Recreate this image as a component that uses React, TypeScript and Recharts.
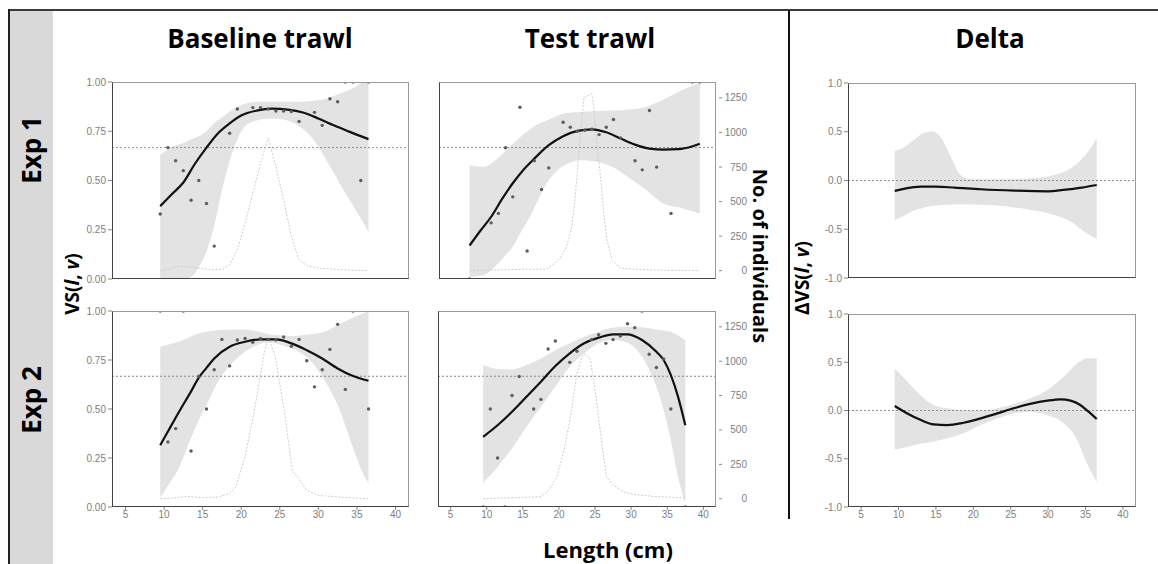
import React from "react"
import { ComposedChart, Area, Line, Scatter, XAxis, YAxis, ReferenceLine } from "recharts"

// rows are [length, value] / [length, lo, hi] / [length, count]
const exp1BasePts = [
  [9.5, 0.33], [10.5, 0.667], [11.5, 0.6], [12.5, 0.55], [13.5, 0.4], [14.5, 0.5], [15.5, 0.383], [16.5, 0.167],
  [18.5, 0.74], [19.5, 0.863], [21.5, 0.87], [22.5, 0.87], [23.5, 0.863], [24.5, 0.853], [25.5, 0.853], [26.5, 0.85],
  [27.5, 0.8], [29.5, 0.846], [30.5, 0.78], [31.5, 0.915], [32.5, 0.9], [33.5, 1], [34.5, 1], [35.5, 0.5], [36.5, 1],
]
const exp1BaseFit = [
  [9.5, 0.37], [11, 0.43], [12.5, 0.49], [14, 0.585], [15.5, 0.667], [17, 0.74], [18.5, 0.79], [20, 0.83],
  [22, 0.855], [24, 0.865], [26, 0.86], [28, 0.845], [30, 0.815], [32, 0.78], [34, 0.748], [36.5, 0.71],
]
const exp1BaseBand = [
  [9.5, 0, 0.63], [11, 0, 0.67], [12.5, 0, 0.69], [13.5, 0.01, 0.71], [14.5, 0.06, 0.725], [15.5, 0.14, 0.75],
  [16.5, 0.27, 0.79], [17.5, 0.45, 0.82], [18.5, 0.6, 0.85], [19.5, 0.71, 0.875], [20.5, 0.775, 0.89], [22, 0.805, 0.9],
  [24, 0.815, 0.9], [26, 0.805, 0.9], [27.5, 0.775, 0.9], [29.5, 0.7, 0.905], [31, 0.605, 0.915], [33, 0.47, 0.945],
  [35, 0.34, 0.98], [36.5, 0.24, 1.03],
]
const exp1BaseCount = [
  [9.5, 0], [10.5, 7], [11.5, 26], [12.5, 31], [13.5, 25], [14.5, 19], [15.5, 12], [16.5, 7], [17.5, 10], [18.5, 43],
  [19.5, 151], [20.5, 343], [21.5, 559], [22.5, 775], [23.5, 962], [24.5, 751], [25.5, 511], [26.5, 247], [27.5, 79],
  [28.5, 36], [30, 19], [33, 7], [36.5, 0],
]

const exp1TestPts = [
  [7.5, 0], [10.5, 0.285], [11.5, 0.333], [12.5, 0.666], [13.5, 0.417], [14.5, 0.872], [15.5, 0.142], [16.5, 0.6],
  [17.5, 0.454], [18.5, 0.564], [20.5, 0.796], [21.5, 0.77], [22.5, 0.75], [23.5, 0.755], [24.5, 0.76], [25.5, 0.733],
  [26.5, 0.77], [27.5, 0.81], [28.5, 0.716], [30.5, 0.6], [31.5, 0.554], [32.5, 0.855], [33.5, 0.568], [35.5, 0.333],
  [38.5, 1], [39.5, 1],
]
const exp1TestFit = [
  [7.5, 0.17], [9, 0.245], [10.5, 0.316], [12, 0.405], [13.5, 0.486], [15, 0.555], [16.5, 0.611], [18.5, 0.679],
  [20.5, 0.725], [22.5, 0.752], [24.5, 0.76], [26.5, 0.745], [28.5, 0.713], [30.5, 0.682], [32.5, 0.662],
  [34.5, 0.657], [36.5, 0.659], [38.5, 0.674], [39.5, 0.687],
]
const exp1TestBand = [
  [7.5, 0.01, 0.578], [9.5, 0.02, 0.57], [10.5, 0.045, 0.585], [11.5, 0.08, 0.615], [12.5, 0.12, 0.65],
  [13.5, 0.164, 0.685], [14.5, 0.23, 0.72], [15.9, 0.316, 0.76], [17, 0.4, 0.785], [18.2, 0.485, 0.805],
  [19.5, 0.545, 0.825], [20.5, 0.573, 0.84], [22.8, 0.603, 0.848], [25, 0.597, 0.852], [27.5, 0.566, 0.855],
  [29.8, 0.51, 0.86], [32.1, 0.45, 0.875], [34.4, 0.383, 0.91], [37.2, 0.358, 0.962], [39.5, 0.333, 0.995],
]
const exp1TestCount = [
  [7.5, 0], [9, 2], [11, 5], [13, 8], [15, 10], [17, 10], [18.2, 12], [19.1, 43], [20.1, 91], [21, 175], [21.7, 319],
  [22.15, 511], [22.6, 799], [23.1, 1087], [23.4, 1255], [24.5, 1279], [24.8, 1159], [25.2, 919], [25.7, 679],
  [26.1, 439], [26.6, 223], [27.3, 79], [28.4, 19], [31, 8], [35, 3], [39.5, 0],
]

const exp2BasePts = [
  [9.5, 1], [10.5, 0.332], [11.5, 0.4], [12.5, 1], [13.5, 0.286], [14.5, 0.667], [15.5, 0.5], [16.5, 0.7],
  [17.5, 0.855], [18.5, 0.72], [19.5, 0.852], [20.5, 0.86], [21.5, 0.84], [22.5, 0.86], [23.5, 0.855], [24.5, 0.852],
  [25.5, 0.867], [26.5, 0.82], [27.5, 0.855], [28.5, 0.746], [29.5, 0.613], [30.5, 0.7], [31.5, 0.804],
  [32.5, 0.932], [33.5, 0.6], [34.5, 1], [36.5, 0.5],
]
const exp2BaseFit = [
  [9.5, 0.315], [10.5, 0.385], [12, 0.49], [13.5, 0.59], [14.5, 0.66], [15.5, 0.71], [16.5, 0.758], [18.5, 0.818],
  [20.5, 0.843], [22.5, 0.855], [24.5, 0.855], [26.5, 0.835], [28.5, 0.8], [30.5, 0.758], [32.5, 0.707],
  [34.5, 0.668], [36.5, 0.644],
]
const exp2BaseBand = [
  [9.5, 0.05, 0.818], [10.7, 0.12, 0.83], [12, 0.204, 0.845], [13.2, 0.324, 0.865], [14.5, 0.443, 0.885],
  [15.8, 0.545, 0.895], [17.1, 0.647, 0.903], [18.8, 0.733, 0.906], [20.5, 0.792, 0.905], [22.3, 0.83, 0.894],
  [23.5, 0.84, 0.882], [24.8, 0.83, 0.876], [26.5, 0.81, 0.872], [28.7, 0.758, 0.88], [30.8, 0.647, 0.894],
  [32.6, 0.511, 0.93], [34.3, 0.324, 0.962], [35.6, 0.187, 0.985], [36.5, 0.12, 0.997],
]
const exp2BaseCount = [
  [9.5, 0], [11, 5], [13, 17], [15, 8], [17, 12], [18.4, 37], [19.3, 85], [20.5, 305], [21.8, 670], [22.9, 1036],
  [23.5, 1180], [24.4, 1036], [25.7, 597], [26.6, 207], [27.4, 150], [28.5, 61], [30, 24], [31.7, 17], [33.9, 7],
  [36.5, 0],
]

const exp2TestPts = [
  [9.5, 0], [10.5, 0.5], [11.5, 0.25], [12.5, 0], [13.5, 0.569], [14.5, 0.666], [16.5, 0.5], [17.5, 0.549],
  [18.5, 0.806], [19.5, 0.847], [21.5, 0.738], [22.5, 0.795], [24.5, 0.854], [25.5, 0.879], [26.5, 0.835],
  [27.5, 0.854], [28.5, 0.872], [29.5, 0.935], [30.5, 0.915], [31.5, 1], [32.5, 0.779], [33.5, 0.712],
  [34.5, 0.755], [35.5, 0.5], [37.5, 0],
]
const exp2TestFit = [
  [9.5, 0.358], [11.5, 0.417], [13.5, 0.486], [15.5, 0.562], [17.5, 0.639], [19.5, 0.719], [21.5, 0.784],
  [23.5, 0.835], [25.5, 0.864], [27.5, 0.881], [29.5, 0.881], [31.5, 0.852], [33.5, 0.792], [34.5, 0.75],
  [35.5, 0.673], [36.5, 0.562], [37.5, 0.417],
]
const exp2TestBand = [
  [9.5, 0.123, 0.724], [11.5, 0.204, 0.704], [13.5, 0.298, 0.702], [15.5, 0.409, 0.724], [17.5, 0.511, 0.758],
  [19.5, 0.613, 0.8], [21.5, 0.715, 0.835], [23.5, 0.784, 0.869], [25.5, 0.835, 0.894], [27.5, 0.852, 0.916],
  [29.5, 0.838, 0.92], [31.5, 0.767, 0.917], [33.5, 0.613, 0.906], [34.5, 0.494, 0.9], [35.5, 0.341, 0.894],
  [36.5, 0.153, 0.875], [37.5, 0.017, 0.852],
]
const exp2TestCount = [
  [9.5, 0], [12, 5], [15, 10], [17.5, 15], [18.6, 61], [19.7, 158], [20.7, 353], [21.6, 597], [22.5, 914],
  [23.2, 1036], [23.5, 1053], [24.3, 1024], [25, 792], [26, 378], [26.6, 158], [27.6, 97], [29, 49], [30.3, 32],
  [33.1, 17], [37.5, 7],
]

const delta1Fit = [
  [9.5, -0.107], [11, -0.08], [13, -0.063], [15, -0.063], [17.5, -0.073], [21, -0.09], [25.5, -0.104], [30, -0.111],
  [32, -0.097], [34.5, -0.073], [36.5, -0.046],
]
const delta1Band = [
  [9.5, -0.404, 0.305], [10.5, -0.37, 0.33], [12, -0.31, 0.414], [13.4, -0.28, 0.49], [14.5, -0.26, 0.506],
  [15.6, -0.25, 0.448], [17, -0.245, 0.244], [18.3, -0.244, 0.056], [19.6, -0.245, 0.015], [23.2, -0.257, 0.012],
  [27.6, -0.301, 0.022], [30.8, -0.353, 0.056], [33, -0.42, 0.124], [34.8, -0.523, 0.244], [36.5, -0.6, 0.43],
]
const delta2Fit = [
  [9.5, 0.047], [11, -0.023], [13, -0.099], [14.7, -0.144], [16.5, -0.151], [18.7, -0.127], [21, -0.081],
  [23.2, -0.03], [25.4, 0.023], [27.6, 0.068], [29.9, 0.102], [31.7, 0.116], [33, 0.102], [34.3, 0.057],
  [35.4, -0.012], [36.5, -0.088],
]
const delta2Band = [
  [9.5, -0.404, 0.432], [11, -0.38, 0.317], [12.9, -0.345, 0.161], [14.7, -0.32, 0.057], [16.5, -0.29, 0.023],
  [18.7, -0.237, 0.005], [21, -0.151, 0], [23.2, -0.081, 0.023], [25.4, -0.03, 0.068], [27.6, -0.012, 0.127],
  [29.9, -0.047, 0.213], [32.1, -0.133, 0.352], [33.9, -0.307, 0.49], [35.2, -0.55, 0.542], [36.5, -0.74, 0.542],
]

const LEN_TICKS = [5, 10, 15, 20, 25, 30, 35, 40]
const VS_TICKS = [0, 0.25, 0.5, 0.75, 1]
const DELTA_TICKS = [-1, -0.5, 0, 0.5, 1]
const N_TICKS = [0, 250, 500, 750, 1000, 1250]

const titleFont = "'Open Sans', sans-serif"
const tickFont = { fontFamily: "'Liberation Sans', Arial, sans-serif", fontSize: 10, fill: "#808080" }

const dotShape = (p: any) => <circle cx={p.cx} cy={p.cy} r={1.7} fill="#5c5c5c" />

const RightTick = (p: any) => (
  <g>
    <line x1={p.x + 3} x2={p.x + 6} y1={p.y} y2={p.y} stroke="#888" />
    <text x={p.x + 31} y={p.y} dy={3.5} textAnchor="end" {...tickFont}>{p.payload.value}</text>
  </g>
)

function Panel({ x, y, w, h, delta, band, fit, points, counts, showLeft, showBottom, showRight }: any) {
  const YW = showLeft ? 40 : 0
  const RW = showRight ? 40 : 0
  const XH = showBottom ? 18 : 0
  const M = 8
  const bandData = band.map(([lx, lo, hi]: number[]) => ({ x: lx, r: [lo, hi] }))
  const fitData = fit.map(([lx, v]: number[]) => ({ x: lx, y: v }))
  const pointData = points ? points.map(([lx, v]: number[]) => ({ x: lx, y: v })) : []
  const countData = counts ? counts.map(([lx, n]: number[]) => ({ x: lx, n })) : []

  return (
    <>
      <div style={{ position: "absolute", left: x - YW - M, top: y - M }}>
        <ComposedChart width={w + YW + RW + 2 * M} height={h + XH + 2 * M} margin={{ top: M, right: M, bottom: M, left: M }}>
          <XAxis type="number" dataKey="x" domain={[3.25, 41.75]} ticks={LEN_TICKS} allowDataOverflow hide={!showBottom}
            height={XH} axisLine={false} tickSize={3} tickMargin={1} tick={tickFont} tickLine={{ stroke: "#888" }} interval={0} />
          <YAxis yAxisId="v" domain={delta ? [-1, 1] : [0, 1]} ticks={delta ? DELTA_TICKS : VS_TICKS} allowDataOverflow
            hide={!showLeft} width={YW} axisLine={false} tickSize={4} tickMargin={2} tick={tickFont} tickLine={{ stroke: "#888" }}
            tickFormatter={(v: number) => v.toFixed(delta ? 1 : 2)} interval={0} />
          <YAxis yAxisId="n" orientation="right" domain={[-60, 1365]} ticks={N_TICKS} allowDataOverflow hide={!showRight}
            width={RW} axisLine={false} tickLine={false} tickSize={0} tickMargin={0} tick={RightTick} interval={0} />
          <Area yAxisId="v" data={bandData} dataKey="r" type="monotone" fill="#e3e3e3" fillOpacity={1} stroke="none"
            isAnimationActive={false} />
          <ReferenceLine yAxisId="v" y={delta ? 0 : 0.667} stroke="#8c8c8c" strokeDasharray="2 2" />
          {counts && (
            <Line yAxisId="n" data={countData} dataKey="n" type="linear" stroke="#c8c8c8" strokeDasharray="2 1.5"
              strokeWidth={0.9} dot={false} isAnimationActive={false} />
          )}
          <Line yAxisId="v" data={fitData} dataKey="y" type="monotone" stroke="#111" strokeWidth={2.2} dot={false}
            isAnimationActive={false} />
          {points && <Scatter yAxisId="v" data={pointData} dataKey="y" shape={dotShape} isAnimationActive={false} />}
        </ComposedChart>
      </div>
      <div style={{
        position: "absolute", left: x, top: y, width: w, height: h, boxSizing: "border-box",
        border: "1px solid #9a9a9a", borderLeft: "1.5px solid #444", borderBottom: "1.5px solid #444", pointerEvents: "none",
      }} />
    </>
  )
}

function Label({ cx, cy, size, rot = 0, children }: any) {
  return (
    <div style={{
      position: "absolute", left: cx, top: cy, transform: `translate(-50%, -50%) rotate(${rot}deg)`,
      fontFamily: titleFont, fontWeight: 700, fontSize: size, whiteSpace: "nowrap", color: "#000", lineHeight: 1,
    }}>{children}</div>
  )
}

export default function App() {
  return (
    <div style={{ position: "absolute", left: 0, top: 0, width: 1158, height: 564, background: "#fff", overflow: "hidden" }}>
      <div style={{ position: "absolute", left: 10, top: 11, width: 43, height: 560, background: "#d9d9d9" }} />
      <div style={{ position: "absolute", left: 8, top: 9, width: 1150, height: 2, background: "#3a3a3a" }} />
      <div style={{ position: "absolute", left: 8, top: 9, width: 2, height: 560, background: "#222" }} />
      <div style={{ position: "absolute", left: 788, top: 10, width: 2, height: 509, background: "#111" }} />

      <Label cx={260} cy={38} size={26}>Baseline trawl</Label>
      <Label cx={590} cy={38} size={26}>Test trawl</Label>
      <Label cx={990} cy={38} size={26}>Delta</Label>
      <Label cx={31} cy={150} size={26} rot={-90}>Exp 1</Label>
      <Label cx={31} cy={400} size={26} rot={-90}>Exp 2</Label>

      <Panel x={112} y={82} w={297} h={197} band={exp1BaseBand} fit={exp1BaseFit} points={exp1BasePts} counts={exp1BaseCount} showLeft />
      <Panel x={439} y={82} w={277} h={197} band={exp1TestBand} fit={exp1TestFit} points={exp1TestPts} counts={exp1TestCount} showRight />
      <Panel x={112} y={311} w={297} h={196} band={exp2BaseBand} fit={exp2BaseFit} points={exp2BasePts} counts={exp2BaseCount} showLeft showBottom />
      <Panel x={438} y={311} w={278} h={196} band={exp2TestBand} fit={exp2TestFit} points={exp2TestPts} counts={exp2TestCount} showRight showBottom />
      <Panel x={848} y={83} w={288} h={195} delta band={delta1Band} fit={delta1Fit} showLeft />
      <Panel x={848} y={314} w={288} h={193} delta band={delta2Band} fit={delta2Fit} showLeft showBottom />

      <Label cx={72} cy={284} size={19} rot={-90}>VS(<i>l</i>, <i>v</i>)</Label>
      <Label cx={802} cy={278} size={19} rot={-90}>ΔVS(<i>l</i>, <i>v</i>)</Label>
      <Label cx={760} cy={256} size={20} rot={90}>No. of individuals</Label>
      <Label cx={608} cy={549} size={22}>Length (cm)</Label>
    </div>
  )
}
